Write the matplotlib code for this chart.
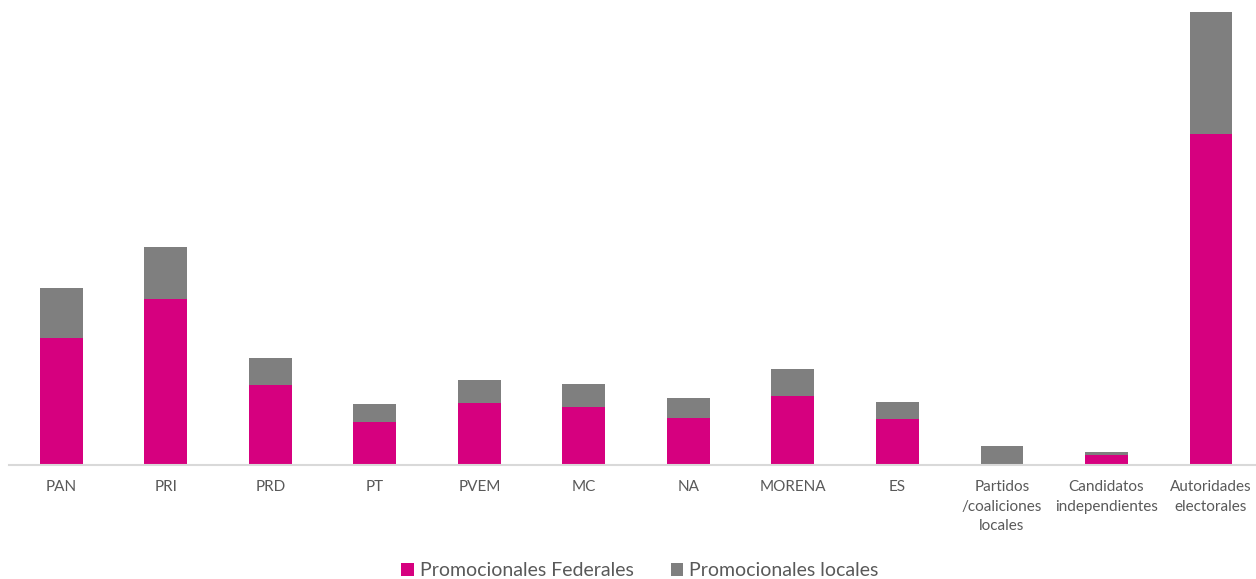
import numpy as np
import matplotlib.pyplot as plt

categories = ["PAN", "PRI", "PRD", "PT", "PVEM", "MC", "NA", "MORENA", "ES",
              "Partidos\n/coaliciones\nlocales", "Candidatos\nindependientes",
              "Autoridades\nelectorales"]
federales = [127, 166, 80, 43, 62, 58, 47, 69, 46, 0, 10, 331]
locales = [50, 52, 27, 18, 23, 23, 20, 27, 17, 19, 3, 122]

plt.rcParams['font.family'] = ['Lato', 'DejaVu Sans']

fig = plt.figure(figsize=(12.56, 5.79), dpi=100)
ax = fig.add_axes([9 / 1256, 1 - 465 / 579, 1 - 9 / 1256, 465 / 579])

x = np.arange(len(categories))
w = 0.41
ax.bar(x, federales, w, color='#D6007F', label='Promocionales Federales')
ax.bar(x, locales, w, bottom=federales, color='#7F7F7F', label='Promocionales locales')

ax.set_xlim(-0.5, (1256 - 61.5) / 104.5)
ax.set_ylim(0, 465)
ax.set_xticks(x)
ax.set_xticklabels(categories, color='#595959', fontsize=11, linespacing=1.5)
ax.tick_params(axis='x', length=0, pad=11)
ax.set_yticks([])
for s in ['top', 'right', 'left']:
    ax.spines[s].set_visible(False)
ax.spines['bottom'].set_color('#D9D9D9')
ax.spines['bottom'].set_linewidth(1.5)

fig.legend(loc='center', bbox_to_anchor=(640 / 1256, 1 - 571 / 579), ncol=2,
           frameon=False, fontsize=14, handlelength=0.65, handleheight=0.65,
           handletextpad=0.3, columnspacing=1.9, labelcolor='#595959')

fig.savefig('out.png', dpi=100)
